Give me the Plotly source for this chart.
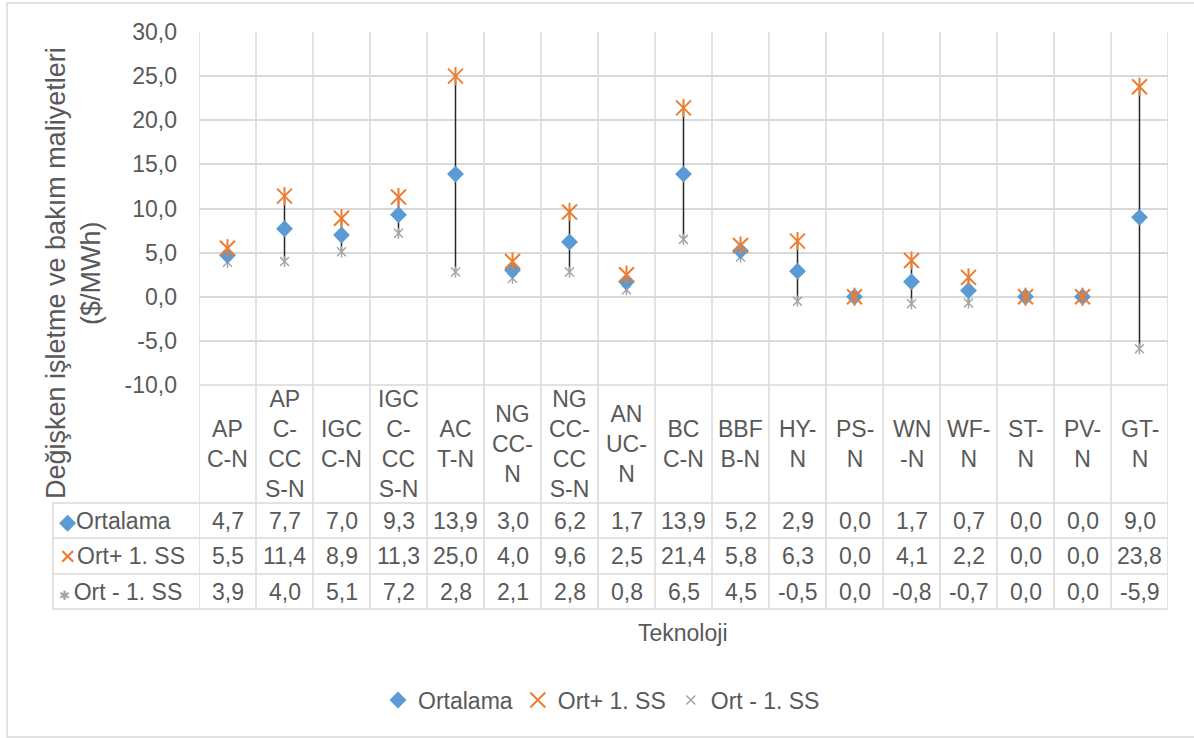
import plotly.graph_objects as go

categories = ["APC-N", "APC-CCS-N", "IGCC-N", "IGCC-CCS-N", "ACT-N", "NGCC-N",
              "NGCC-CCS-N", "ANUC-N", "BCC-N", "BBFB-N", "HY-N", "PS-N", "WN-N",
              "WF-N", "ST-N", "PV-N", "GT-N"]
category_labels = ["AP<br>C-N", "AP<br>C-<br>CC<br>S-N", "IGC<br>C-N", "IGC<br>C-<br>CC<br>S-N",
                   "AC<br>T-N", "NG<br>CC-<br>N", "NG<br>CC-<br>CC<br>S-N", "AN<br>UC-<br>N",
                   "BC<br>C-N", "BBF<br>B-N", "HY-<br>N", "PS-<br>N", "WN<br>-N", "WF-<br>N",
                   "ST-<br>N", "PV-<br>N", "GT-<br>N"]
ortalama = [4.7, 7.7, 7.0, 9.3, 13.9, 3.0, 6.2, 1.7, 13.9, 5.2, 2.9, 0.0, 1.7, 0.7, 0.0, 0.0, 9.0]
ort_plus = [5.5, 11.4, 8.9, 11.3, 25.0, 4.0, 9.6, 2.5, 21.4, 5.8, 6.3, 0.0, 4.1, 2.2, 0.0, 0.0, 23.8]
ort_minus = [3.9, 4.0, 5.1, 7.2, 2.8, 2.1, 2.8, 0.8, 6.5, 4.5, -0.5, 0.0, -0.8, -0.7, 0.0, 0.0, -5.9]
series_names = ["Ortalama", "Ort+ 1. SS", "Ort - 1. SS"]
y_ticks = [-10, -5, 0, 5, 10, 15, 20, 25, 30]
y_title = "Değişken işletme ve bakım maliyetleri<br>($/MWh)"
x_title = "Teknoloji"

BLUE = "#5B9BD5"
ORANGE = "#ED7D31"
GRAY = "#A5A5A5"
TEXT = "#595959"
GRID = "#D9D9D9"
FONT = "Liberation Sans, Arial, sans-serif"
FS = 23

W, H = 1194, 738
L, R, T, B = 199, 1168, 32, 385


def py(p):  # pixel y -> paper y
    return (B - p) / (B - T)


def px(p):  # pixel x -> paper x
    return (p - L) / (R - L)


def fmt(v):
    return f"{v:.1f}".replace(".", ",")


fig = go.Figure()

# high-low lines
hx, hy = [], []
for c, lo, hi in zip(categories, ort_minus, ort_plus):
    hx += [c, c, None]
    hy += [lo, hi, None]
fig.add_trace(go.Scatter(x=hx, y=hy, mode="lines", line=dict(color="#262626", width=1.5),
                         showlegend=False, hoverinfo="skip"))

fig.add_trace(go.Scatter(x=categories, y=ort_minus, mode="markers", name=series_names[2],
                         legendrank=3,
                         marker=dict(symbol="x-thin-open", size=9, color=GRAY,
                                     line=dict(color=GRAY, width=1.5))))
fig.add_trace(go.Scatter(x=categories, y=ort_minus, mode="markers", showlegend=False,
                         marker=dict(symbol="line-ns-open", size=8, color=GRAY,
                                     line=dict(color=GRAY, width=1.5))))
fig.add_trace(go.Scatter(x=categories, y=ortalama, mode="markers", name=series_names[0],
                         legendrank=1,
                         marker=dict(symbol="diamond", size=13, color=BLUE)))
fig.add_trace(go.Scatter(x=categories, y=ort_plus, mode="markers", name=series_names[1],
                         legendrank=2,
                         marker=dict(symbol="x-thin-open", size=15, color=ORANGE,
                                     line=dict(color=ORANGE, width=2))))
fig.add_trace(go.Scatter(x=categories, y=ort_plus, mode="markers", showlegend=False,
                         marker=dict(symbol="line-ns-open", size=13, color=ORANGE,
                                     line=dict(color=ORANGE, width=2))))

shapes = []
row_lines = [503, 538, 574, 609]
for i in range(len(categories) + 1):
    shapes.append(dict(type="line", xref="x", yref="paper", x0=i - 0.5, x1=i - 0.5,
                       y0=1, y1=py(row_lines[-1]), line=dict(color=GRID, width=1.5), layer="below"))
for r in row_lines:
    shapes.append(dict(type="line", xref="paper", yref="paper", x0=px(53), x1=1,
                       y0=py(r), y1=py(r), line=dict(color=GRID, width=1.5), layer="below"))
shapes.append(dict(type="line", xref="paper", yref="paper", x0=0, x1=1, y0=0, y1=0,
                   line=dict(color=GRID, width=1.5), layer="below"))
shapes.append(dict(type="line", xref="paper", yref="paper", x0=px(53), x1=px(53),
                   y0=py(row_lines[0]), y1=py(row_lines[-1]), line=dict(color=GRID, width=1.5),
                   layer="below"))
# outer chart border
shapes.append(dict(type="rect", xref="paper", yref="paper", x0=px(7), x1=px(1200),
                   y0=py(737), y1=py(3), line=dict(color=GRID, width=1.5), layer="below"))

annotations = []
for c, lab in zip(categories, category_labels):
    annotations.append(dict(x=c, xref="x", y=py(444), yref="paper", text=lab, showarrow=False,
                            xanchor="center", yanchor="middle",
                            font=dict(size=FS, color=TEXT, family=FONT)))

rows = [ortalama, ort_plus, ort_minus]
row_icons = [f"<span style='color:{BLUE};font-size:22px'>◆</span>",
             f"<span style='color:{ORANGE};font-size:21px'>✕</span>",
             f"<span style='color:{GRAY};font-size:13px'>✱ </span>"]
for k, vals in enumerate(rows):
    yc = py((row_lines[k] + row_lines[k + 1]) / 2)
    for c, v in zip(categories, vals):
        annotations.append(dict(x=c, xref="x", y=yc, yref="paper", text=fmt(v), showarrow=False,
                                xanchor="center", yanchor="middle",
                                font=dict(size=FS, color=TEXT, family=FONT)))
    annotations.append(dict(x=px(57), xref="paper", y=yc, yref="paper",
                            text=row_icons[k] + series_names[k], showarrow=False,
                            xanchor="left", yanchor="middle",
                            font=dict(size=FS, color=TEXT, family=FONT)))

annotations.append(dict(x=px(683), xref="paper", y=py(633), yref="paper", text=x_title,
                        showarrow=False, xanchor="center", yanchor="middle",
                        font=dict(size=FS, color=TEXT, family=FONT)))
annotations.append(dict(x=px(73), xref="paper", y=py(273), yref="paper", text=y_title,
                        showarrow=False, textangle=-90, xanchor="center", yanchor="middle",
                        font=dict(size=27, color=TEXT, family=FONT)))

fig.update_layout(
    width=W, height=H,
    margin=dict(l=L, r=W - R, t=T, b=H - B, pad=0),
    paper_bgcolor="white", plot_bgcolor="white",
    font=dict(family=FONT, size=FS, color=TEXT),
    xaxis=dict(type="category", range=[-0.5, len(categories) - 0.5], showgrid=False,
               showticklabels=False, zeroline=False, showline=False, ticks=""),
    yaxis=dict(range=[-10, 30], tickmode="array", tickvals=y_ticks,
               ticktext=[fmt(v) for v in y_ticks], showgrid=True,
               gridcolor=GRID, gridwidth=1.5, zeroline=False, showline=False,
               ticks="", ticklabelstandoff=21, tickfont=dict(size=FS, color=TEXT)),
    shapes=shapes,
    annotations=annotations,
    legend=dict(orientation="h", x=px(378), xanchor="left", y=py(700), yanchor="middle",
                traceorder="normal", font=dict(size=FS, color=TEXT, family=FONT),
                bgcolor="rgba(0,0,0,0)"),
    showlegend=True,
)

fig.write_html("out.html", config={"displayModeBar": False},
               post_script="document.body.style.margin='0px';")
